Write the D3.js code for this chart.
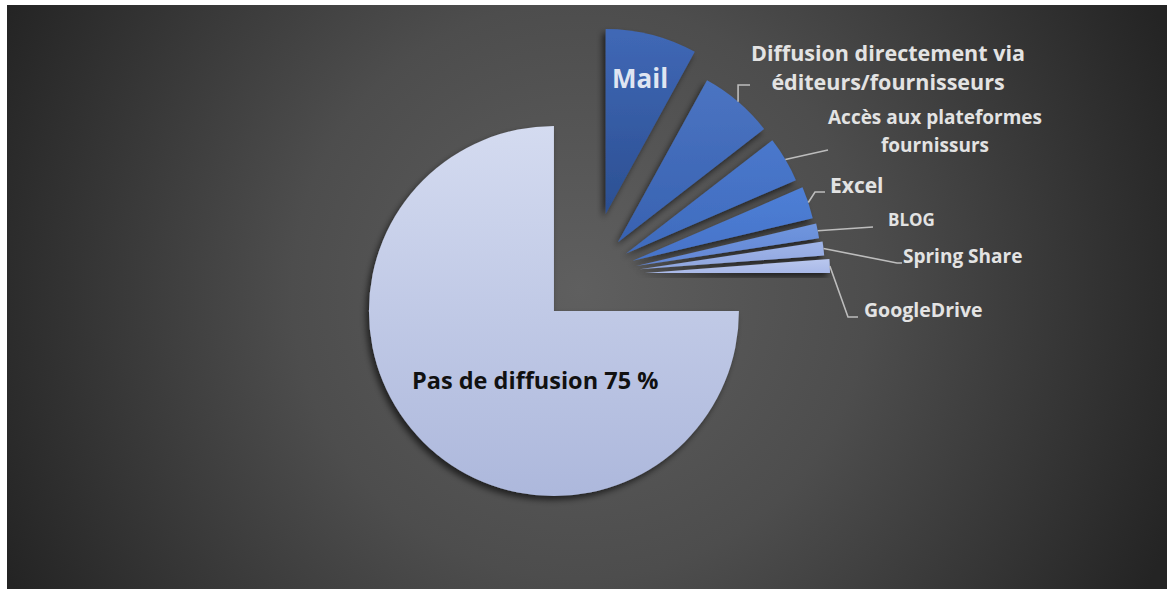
<!DOCTYPE html>
<html>
<head>
<meta charset="utf-8">
<script src="https://cdn.jsdelivr.net/npm/d3@7"></script>
<style>
  html, body { margin: 0; padding: 0; background: #ffffff; }
  svg { display: block; }
</style>
</head>
<body>
<svg id="chart" width="1167" height="589"></svg>
<script>
// Survey answers: how the results are shared (share of respondents, %)
const categories = [
  "Pas de diffusion",
  "Mail",
  "Diffusion directement via éditeurs/fournisseurs",
  "Accès aux plateformes fournissurs",
  "Excel",
  "BLOG",
  "Spring Share",
  "GoogleDrive"
];
const values = [75, 8, 6.5, 4, 2.8, 1.3, 1.2, 1.2];
const labelLines = [
  ["Pas de diffusion 75 %"],
  ["Mail"],
  ["Diffusion directement via", "éditeurs/fournisseurs"],
  ["Accès aux plateformes", "fournissurs"],
  ["Excel"],
  ["BLOG"],
  ["Spring Share"],
  ["GoogleDrive"]
];

// ---- styling ----
const W = 1167, H = 589;
const center = { x: 590, y: 275 };
const radius = 185;
const explode = [51, 63, 43, 42, 45, 47, 50, 55];
const fills = [
  ["#d4dbf0", "#adb8dc"],
  ["#4068b6", "#2b4f92"],
  ["#4b74c2", "#3862b1"],
  ["#4a78cc", "#3f6bbd"],
  ["#4e7fd6", "#4673c8"],
  ["#7096de", "#6286d4"],
  ["#a0b5e8", "#8ea5df"],
  ["#b9c7ee", "#a9b9e8"]
];
// label placement: text anchor point, font size, line height, colour, leader bends
const labelLayout = [
  { x: 412, y: 389, anchor: "start", size: 23.5, lh: 0, color: "#111111", leader: null },
  { x: 612, y: 88, anchor: "start", size: 26, lh: 0, color: "#dfe5f2", leader: null },
  { x: 888, y: 61, anchor: "middle", size: 21.5, lh: 29, color: "#e3e3e3", leader: "v", pts: [[null, 85], [750, 85]] },
  { x: 935, y: 124, anchor: "middle", size: 19, lh: 28, color: "#e3e3e3", leader: "s", pts: [[828, 150]] },
  { x: 830, y: 193, anchor: "start", size: 21, lh: 0, color: "#e3e3e3", leader: "s", pts: [[815, 192], [825, 192]] },
  { x: 888, y: 226, anchor: "start", size: 17, lh: 0, color: "#e3e3e3", leader: "s", pts: [[873, 227]] },
  { x: 903, y: 263, anchor: "start", size: 19, lh: 0, color: "#e3e3e3", leader: "s", pts: [[897, 263], [902, 263]] },
  { x: 864, y: 317, anchor: "start", size: 19.5, lh: 0, color: "#e3e3e3", leader: "s", pts: [[848, 317], [858, 317]] }
];

const svg = d3.select("#chart");
const defs = svg.append("defs");

// background: dark radial glow
const bg = defs.append("radialGradient")
  .attr("id", "bg").attr("gradientUnits", "userSpaceOnUse")
  .attr("cx", 580).attr("cy", 290).attr("r", 640);
bg.append("stop").attr("offset", 0).attr("stop-color", "#5f5f5f");
bg.append("stop").attr("offset", 0.45).attr("stop-color", "#4d4d4d");
bg.append("stop").attr("offset", 1).attr("stop-color", "#242424");

svg.append("rect")
  .attr("x", 7).attr("y", 5).attr("width", W - 7).attr("height", H - 5)
  .attr("fill", "url(#bg)");

// drop shadow for the slices
const sh = defs.append("filter").attr("id", "shadow")
  .attr("x", "-30%").attr("y", "-30%").attr("width", "160%").attr("height", "160%");
sh.append("feDropShadow")
  .attr("dx", -3).attr("dy", 4).attr("stdDeviation", 3)
  .attr("flood-color", "#000").attr("flood-opacity", 0.6);

fills.forEach((f, i) => {
  const g = defs.append("linearGradient").attr("id", "fill" + i)
    .attr("x1", 0).attr("y1", 0).attr("x2", 0).attr("y2", 1);
  g.append("stop").attr("offset", 0).attr("stop-color", f[0]);
  g.append("stop").attr("offset", 1).attr("stop-color", f[1]);
});

const pie = d3.pie().sort(null).value(d => d)
  .startAngle(Math.PI / 2).endAngle(Math.PI / 2 + 2 * Math.PI);
const arcs = pie(values);
const arc = d3.arc().innerRadius(0).outerRadius(radius);

function offsetOf(d, i) {
  const mid = (d.startAngle + d.endAngle) / 2;
  return [Math.sin(mid) * explode[i], -Math.cos(mid) * explode[i]];
}

const g = svg.append("g").attr("transform", `translate(${center.x},${center.y})`);

g.selectAll("path.slice")
  .data(arcs)
  .join("path")
  .attr("class", "slice")
  .attr("d", arc)
  .attr("fill", (d, i) => `url(#fill${i})`)
  .attr("filter", "url(#shadow)")
  .attr("transform", (d, i) => {
    const o = offsetOf(d, i);
    return `translate(${o[0]},${o[1]})`;
  });

// leader lines from the outer edge of each small slice
arcs.forEach((d, i) => {
  const L = labelLayout[i];
  if (!L.leader) return;
  const mid = (d.startAngle + d.endAngle) / 2;
  const o = offsetOf(d, i);
  const sx = center.x + o[0] + Math.sin(mid) * radius;
  const sy = center.y + o[1] - Math.cos(mid) * radius;
  const pts = [[sx, sy]].concat(L.pts.map(p => [p[0] === null ? sx : p[0], p[1]]));
  svg.append("path")
    .attr("d", d3.line()(pts))
    .attr("fill", "none")
    .attr("stroke", "#bdbdbd")
    .attr("stroke-width", 1.6);
});

// labels
labelLayout.forEach((L, i) => {
  const t = svg.append("text")
    .attr("x", L.x).attr("y", L.y)
    .attr("text-anchor", L.anchor)
    .attr("font-family", "'Open Sans', Lato, sans-serif")
    .attr("font-weight", 700)
    .attr("font-size", L.size)
    .attr("fill", L.color);
  labelLines[i].forEach((line, k) => {
    t.append("tspan").attr("x", L.x).attr("dy", k === 0 ? 0 : L.lh).text(line);
  });
});
</script>
</body>
</html>
